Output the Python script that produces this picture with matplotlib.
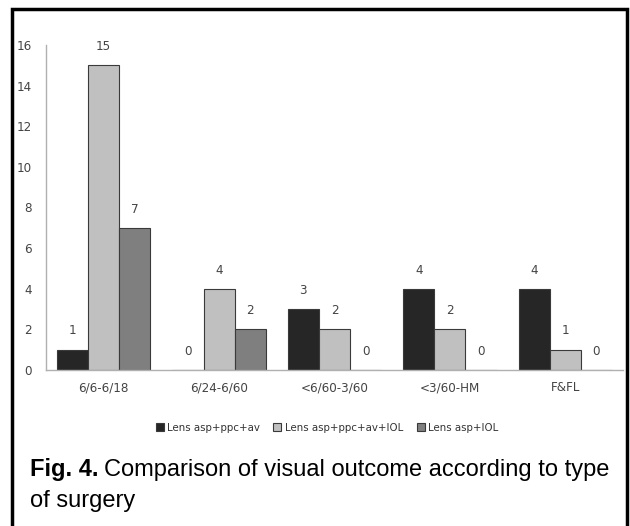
import matplotlib
matplotlib.use("Agg")
import numpy as np
import matplotlib.pyplot as plt
from matplotlib.patches import Rectangle

categories = ["6/6-6/18", "6/24-6/60", "<6/60-3/60", "<3/60-HM", "F&FL"]
series_names = ["Lens asp+ppc+av", "Lens asp+ppc+av+IOL", "Lens asp+IOL"]
asp_ppc_av = [1, 0, 3, 4, 4]
asp_ppc_av_iol = [15, 4, 2, 2, 1]
asp_iol = [7, 2, 0, 0, 0]
yticks = [0, 2, 4, 6, 8, 10, 12, 14, 16]

colors = ["#262626", "#c0c0c0", "#7f7f7f"]
small_font = dict(family="DejaVu Sans", fontstretch="condensed")

fig = plt.figure(figsize=(6.3, 5.26), dpi=100)
ax = fig.add_axes([46 / 630, 1 - 370 / 526, 577 / 630, 325 / 526])

x = np.arange(len(categories))
w = 0.27
for i, (vals, col) in enumerate(zip([asp_ppc_av, asp_ppc_av_iol, asp_iol], colors)):
    pos = x + (i - 1) * w
    ax.bar(pos, vals, width=w, color=col, edgecolor="#3a3a3a", linewidth=0.8,
           label=series_names[i])
    for px, v in zip(pos, vals):
        ax.text(px, v + 0.6, str(v), ha="center", va="bottom", fontsize=9.5,
                color="#444444", **small_font)

ax.set_xlim(-0.5, len(categories) - 0.5)
ax.set_ylim(0, 16)
ax.set_yticks(yticks)
ax.set_xticks(x)
ax.set_xticklabels(categories)
ax.tick_params(length=0, labelsize=9.5, labelcolor="#444444")
ax.tick_params(axis="x", pad=8)
ax.tick_params(axis="y", pad=10)
for lab in ax.get_xticklabels() + ax.get_yticklabels():
    lab.set_fontstretch("condensed")
for s in ["top", "right"]:
    ax.spines[s].set_visible(False)
for s in ["left", "bottom"]:
    ax.spines[s].set_color("#b0b0b0")
    ax.spines[s].set_linewidth(1.0)

leg = fig.legend(loc="center", bbox_to_anchor=(327 / 630, 1 - 428 / 526), ncol=3,
                 frameon=False, fontsize=8.2, handlelength=0.7, handleheight=0.7,
                 handletextpad=0.3, columnspacing=1.2)
for t in leg.get_texts():
    t.set_color("#333333")
    t.set_fontstretch("condensed")

# caption
cap1 = fig.text(30 / 630, 1 - 476 / 526, "Fig. 4.", fontsize=17, fontweight="bold",
                family="Liberation Sans", va="baseline")
fig.canvas.draw()
bb = cap1.get_window_extent()
fig.text(bb.x1 / 630 + 6 / 630, 1 - 476 / 526,
         "Comparison of visual outcome according to type", fontsize=17,
         family="Liberation Sans", va="baseline")
fig.text(30 / 630, 1 - 507 / 526, "of surgery", fontsize=17,
         family="Liberation Sans", va="baseline")

# outer frame
fig.patches.append(Rectangle((12 / 630, -0.05), 615 / 630, 1.05 - 9 / 526,
                             transform=fig.transFigure, fill=False,
                             edgecolor="black", linewidth=2.5))

fig.savefig("out.png", dpi=100)
